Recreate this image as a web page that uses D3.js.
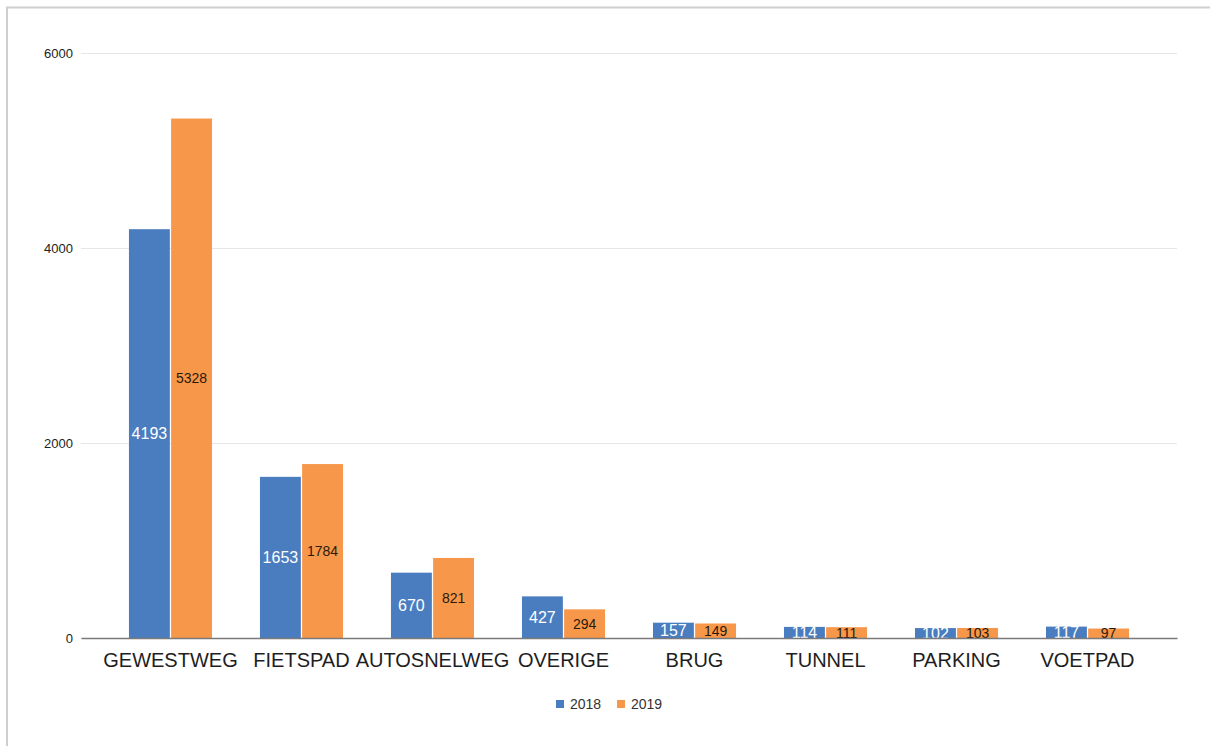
<!DOCTYPE html>
<html>
<head>
<meta charset="utf-8">
<script src="https://cdn.jsdelivr.net/npm/d3@7"></script>
<style>
  html, body { margin: 0; padding: 0; background: #fff; }
  svg { display: block; }
</style>
</head>
<body>
<svg id="chart" width="1210" height="746"></svg>
<script>
// Incidents per road type, 2018 vs 2019
const categories = ["GEWESTWEG", "FIETSPAD", "AUTOSNELWEG", "OVERIGE", "BRUG", "TUNNEL", "PARKING", "VOETPAD"];
const series = ["2018", "2019"];
const values2018 = [4193, 1653, 670, 427, 157, 114, 102, 117];
const values2019 = [5328, 1784, 821, 294, 149, 111, 103, 97];
const yTicks = [0, 2000, 4000, 6000];
const colors = ["#4a7dbf", "#f7974a"];
const labelColors = ["#ffffff", "#2b1a0a"];

const svg = d3.select("#chart");
const W = 1210, H = 746;

// panel frame (top and left edges)
svg.append("line").attr("x1", 6).attr("x2", W).attr("y1", 7.5).attr("y2", 7.5)
  .attr("stroke", "#cfcfcf").attr("stroke-width", 2);
svg.append("line").attr("x1", 7).attr("x2", 7).attr("y1", 7).attr("y2", H)
  .attr("stroke", "#cfcfcf").attr("stroke-width", 2);

const plotLeft = 81, plotRight = 1177, plotTop = 53, plotBottom = 638;

const y = d3.scaleLinear().domain([0, 6000]).range([plotBottom, plotTop]);
const x = d3.scaleBand().domain(categories).range([plotLeft, plotRight])
  .paddingInner(0.366).paddingOuter(0.366);
const xs = d3.scaleBand().domain(series).range([0, x.bandwidth()]).paddingInner(0.03);

// gridlines
const yAxis = d3.axisLeft(y).tickValues(yTicks).tickFormat(d3.format("d"))
  .tickSize(-(plotRight - plotLeft)).tickSizeOuter(0).tickPadding(8);
const gy = svg.append("g").attr("transform", `translate(${plotLeft},0)`).call(yAxis);
gy.select(".domain").remove();
gy.selectAll(".tick line").attr("stroke", "#e6e6e6").attr("stroke-width", 1.2);
gy.selectAll(".tick text")
  .attr("font-family", "Liberation Sans, Arial, sans-serif")
  .attr("font-size", 13).attr("fill", "#222");

// bars
const data = categories.map((c, i) => ({ cat: c, vals: [values2018[i], values2019[i]] }));
const groups = svg.append("g").selectAll("g").data(data).join("g")
  .attr("transform", d => `translate(${x(d.cat)},0)`);

groups.selectAll("rect").data(d => d.vals.map((v, k) => ({ v, k })))
  .join("rect")
  .attr("x", d => xs(series[d.k]))
  .attr("width", xs.bandwidth())
  .attr("y", d => y(d.v))
  .attr("height", d => y(0) - y(d.v))
  .attr("fill", d => colors[d.k]);

// value labels centred in each bar
groups.selectAll("text").data(d => d.vals.map((v, k) => ({ v, k })))
  .join("text")
  .attr("x", d => xs(series[d.k]) + xs.bandwidth() / 2)
  .attr("y", d => (y(d.v) + y(0)) / 2)
  .attr("dy", "0.36em")
  .attr("text-anchor", "middle")
  .attr("font-family", "Liberation Sans, Arial, sans-serif")
  .attr("font-size", d => d.k === 0 ? 16 : 14)
  .attr("fill", d => labelColors[d.k])
  .text(d => d.v);

// baseline and category axis
const xAxis = d3.axisBottom(x).tickSize(0).tickPadding(15);
const gx = svg.append("g").attr("transform", `translate(0,${plotBottom})`).call(xAxis);
gx.select(".domain").attr("stroke", "#7a7a7a").attr("stroke-width", 1.3);
gx.selectAll(".tick text")
  .attr("font-family", "Liberation Sans, Arial, sans-serif")
  .attr("font-size", 20).attr("fill", "#1e1e1e");

// legend
const legend = svg.append("g").attr("transform", "translate(556,704)");
const lx = [0, 61];
series.forEach((s, k) => {
  legend.append("rect").attr("x", lx[k]).attr("y", -4).attr("width", 8).attr("height", 8)
    .attr("fill", colors[k]);
  legend.append("text").attr("x", lx[k] + 14).attr("y", 0).attr("dy", "0.36em")
    .attr("font-family", "Liberation Sans, Arial, sans-serif")
    .attr("font-size", 14).attr("fill", "#333").text(s);
});
</script>
</body>
</html>
